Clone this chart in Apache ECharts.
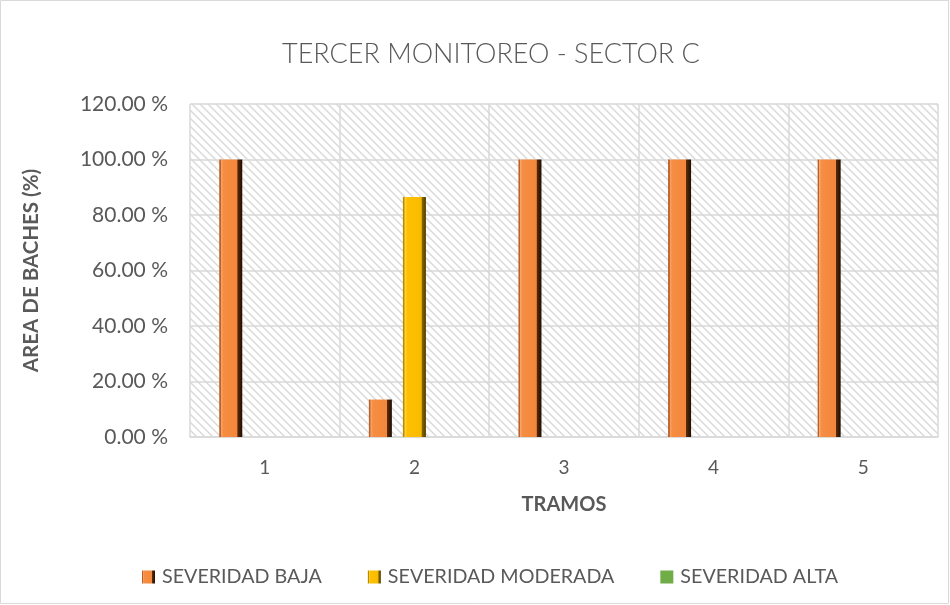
<!DOCTYPE html>
<html><head><meta charset="utf-8">
<script src="https://cdn.jsdelivr.net/npm/echarts@6/dist/echarts.min.js"></script>
<style>html,body{margin:0;padding:0;background:#fff}#c{width:950px;height:605px}</style>
</head><body><div id="c"></div>
<script>
const categories = ['1', '2', '3', '4', '5'];
const severidadBaja = [100, 13.5, 100, 100, 100];
const severidadModerada = [0, 86.5, 0, 0, 0];
const severidadAlta = [0, 0, 0, 0, 0];
const seriesNames = ['SEVERIDAD BAJA', 'SEVERIDAD MODERADA', 'SEVERIDAD ALTA'];

const FONT = 'Lato';
const chart = echarts.init(document.getElementById('c'), null, {renderer: 'canvas'});

// hatch pattern
const pc = document.createElement('canvas');
pc.width = 8; pc.height = 8;
const g = pc.getContext('2d');
g.fillStyle = '#ffffff'; g.fillRect(0, 0, 8, 8);
g.strokeStyle = '#dadada'; g.lineWidth = 1.5;
g.beginPath();
g.moveTo(-2, -2); g.lineTo(10, 10);
g.moveTo(-2, 6); g.lineTo(2, 10);
g.moveTo(6, -2); g.lineTo(10, 2);
g.stroke();

const LG = echarts.graphic.LinearGradient;
const orangeFill = new LG(0, 0, 1, 0, [
  {offset: 0, color: '#b8612a'}, {offset: 0.06, color: '#b8612a'},
  {offset: 0.08, color: '#f9a56c'}, {offset: 0.18, color: '#f58d42'},
  {offset: 0.78, color: '#f3873b'}, {offset: 0.8, color: '#5a2a08'},
  {offset: 1, color: '#1f0c00'}
]);
const yellowFill = new LG(0, 0, 1, 0, [
  {offset: 0, color: '#b98c00'}, {offset: 0.06, color: '#b98c00'},
  {offset: 0.08, color: '#ffd84a'}, {offset: 0.18, color: '#ffc000'},
  {offset: 0.8, color: '#f7bb00'}, {offset: 0.83, color: '#8a6a00'},
  {offset: 1, color: '#4d3a00'}
]);

chart.setOption({
  animation: false,
  backgroundColor: '#ffffff',
  title: {
    text: 'TERCER MONITOREO - SECTOR C', left: 277, top: 36,
    textStyle: {fontFamily: FONT, fontWeight: 300, fontSize: 27, color: '#595959'}
  },
  graphic: [{type: 'rect', shape: {x: 0.5, y: 0.5, width: 948, height: 603},
    style: {fill: 'none', stroke: '#d9d9d9', lineWidth: 1}, silent: true}],
  legend: {
    top: 562, left: 137, itemGap: 46, itemWidth: 13, itemHeight: 13,
    textStyle: {fontFamily: FONT, fontSize: 19.7, color: '#595959', padding: [0, 0, 0, 2]},
    data: seriesNames.map(n => ({name: n, icon: 'rect'}))
  },
  grid: {
    left: 190, right: 12, top: 104, bottom: 168, show: true,
    backgroundColor: {image: pc, repeat: 'repeat'}, borderWidth: 0
  },
  xAxis: {
    type: 'category', data: categories, name: 'TRAMOS', nameLocation: 'middle', nameGap: 58,
    nameTextStyle: {fontFamily: FONT, fontWeight: 'bold', fontSize: 20, color: '#595959'},
    axisLine: {lineStyle: {color: '#d9d9d9', width: 1.5}},
    axisTick: {show: false},
    axisLabel: {fontFamily: FONT, fontSize: 19, color: '#595959', margin: 21},
    splitLine: {show: true, lineStyle: {color: '#d9d9d9', width: 1.5}}
  },
  yAxis: {
    type: 'value', min: 0, max: 120, interval: 20,
    name: 'AREA DE BACHES (%)', nameLocation: 'middle', nameGap: 148, nameRotate: 90,
    nameTextStyle: {fontFamily: FONT, fontWeight: 'bold', fontSize: 20.5, color: '#595959'},
    axisLine: {show: false}, axisTick: {show: false},
    axisLabel: {fontFamily: FONT, fontSize: 21, color: '#595959', margin: 22,
      formatter: v => v.toFixed(2) + ' %'},
    splitLine: {lineStyle: {color: '#d9d9d9', width: 1.5}}
  },
  series: [
    {name: seriesNames[0], type: 'bar', data: severidadBaja, barWidth: 23, barGap: '48%',
      itemStyle: {color: orangeFill}},
    {name: seriesNames[1], type: 'bar', data: severidadModerada, barWidth: 23, barGap: '48%',
      itemStyle: {color: yellowFill}},
    {name: seriesNames[2], type: 'bar', data: severidadAlta, barWidth: 23, barGap: '48%',
      itemStyle: {color: '#70ad47'}}
  ]
});
</script></body></html>
